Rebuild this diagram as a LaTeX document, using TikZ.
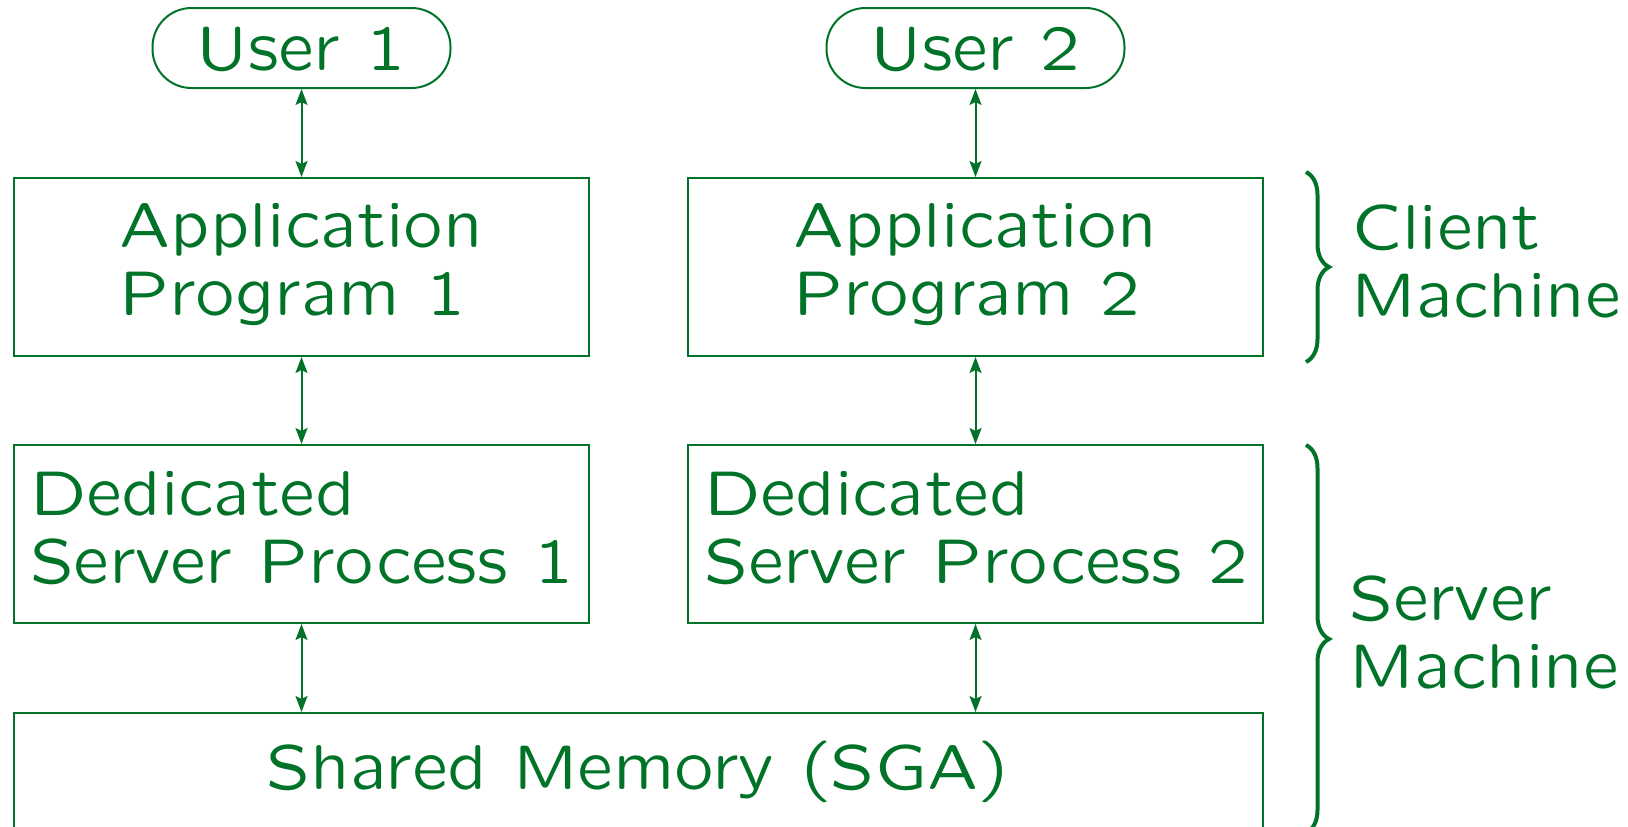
\documentclass[tikz,border=0pt]{standalone}
\font\slf=lcmss8 at 31.7pt
\usetikzlibrary{arrows.meta,decorations.pathreplacing}
\definecolor{dg}{RGB}{0,115,40}
\begin{document}
\begin{tikzpicture}[x=0.5pt,y=-0.5pt,
  every node/.style={font={\fontsize{31.7}{34}\selectfont\slf}, text=dg},
  box/.style={draw=dg, line width=1pt, inner sep=0pt, minimum width=287.5pt, minimum height=89pt},
  userbox/.style={draw=dg, line width=1pt, rounded corners=19.5pt, inner sep=0pt,
    minimum width=149pt, minimum height=40pt, text height=22pt, text depth=0pt},
  tipa/.tip={Stealth[length=8pt,width=6pt,inset=1.5pt]},
  arr/.style={draw=dg, line width=1pt, tipa-tipa},
  brc/.style={draw=dg, line width=2pt, decorate, decoration={brace, amplitude=11.5pt}},
  side/.style={anchor=base west, inner sep=0pt}
]
\path[use as bounding box, clip] (0,0) rectangle (1628,826);

% users
\node[userbox] (u1) at (301.5,48) {User 1};
\node[userbox] (u2) at (975.5,48) {User 2};

% application programs
\node[box, text height=0pt, text depth=20pt] (a1) at (301.5,267)
  {\begin{tabular}[t]{@{}l@{}}Application\\Program 1\end{tabular}};
\node[box, text height=0pt, text depth=20pt] (a2) at (975.5,267)
  {\begin{tabular}[t]{@{}l@{}}Application\\Program 2\end{tabular}};

% dedicated server processes
\node[box, text height=0pt, text depth=19pt, inner xsep=8pt] (d1) at (301.5,534)
  {\makebox[271.5pt][l]{\begin{tabular}[t]{@{}l@{}}Dedicated\\Server Process 1\end{tabular}}};
\node[box, text height=0pt, text depth=19pt, inner xsep=8pt] (d2) at (975.5,534)
  {\makebox[271.5pt][l]{\begin{tabular}[t]{@{}l@{}}Dedicated\\Server Process 2\end{tabular}}};

% shared memory
\node[draw=dg, line width=1pt, inner sep=0pt, minimum width=624.5pt, minimum height=89pt,
  text height=0pt, text depth=13pt] (sh) at (638.5,802) {Shared Memory (SGA)};

% connectors
\draw[arr] (u1) -- (a1);
\draw[arr] (u2) -- (a2);
\draw[arr] (a1) -- (d1);
\draw[arr] (a2) -- (d2);
\draw[arr] (d1.south) -- (d1.south |- sh.north);
\draw[arr] (d2.south) -- (d2.south |- sh.north);

% braces
\coordinate (c1) at (1306,172);
\coordinate (c2) at (1306,362);
\draw[brc] (c1) -- (c2);
\coordinate (s1) at (1306,445);
\coordinate (s2) at (1306,833);
\draw[brc] (s1) -- (s2);

% side labels
\node[side] (cl) at (1351,249) {\begin{tabular}[t]{@{}l@{}}Client\\Machine\end{tabular}};
\node[side] (sv) at (1349,620) {\begin{tabular}[t]{@{}l@{}}Server\\Machine\end{tabular}};
\end{tikzpicture}
\end{document}
